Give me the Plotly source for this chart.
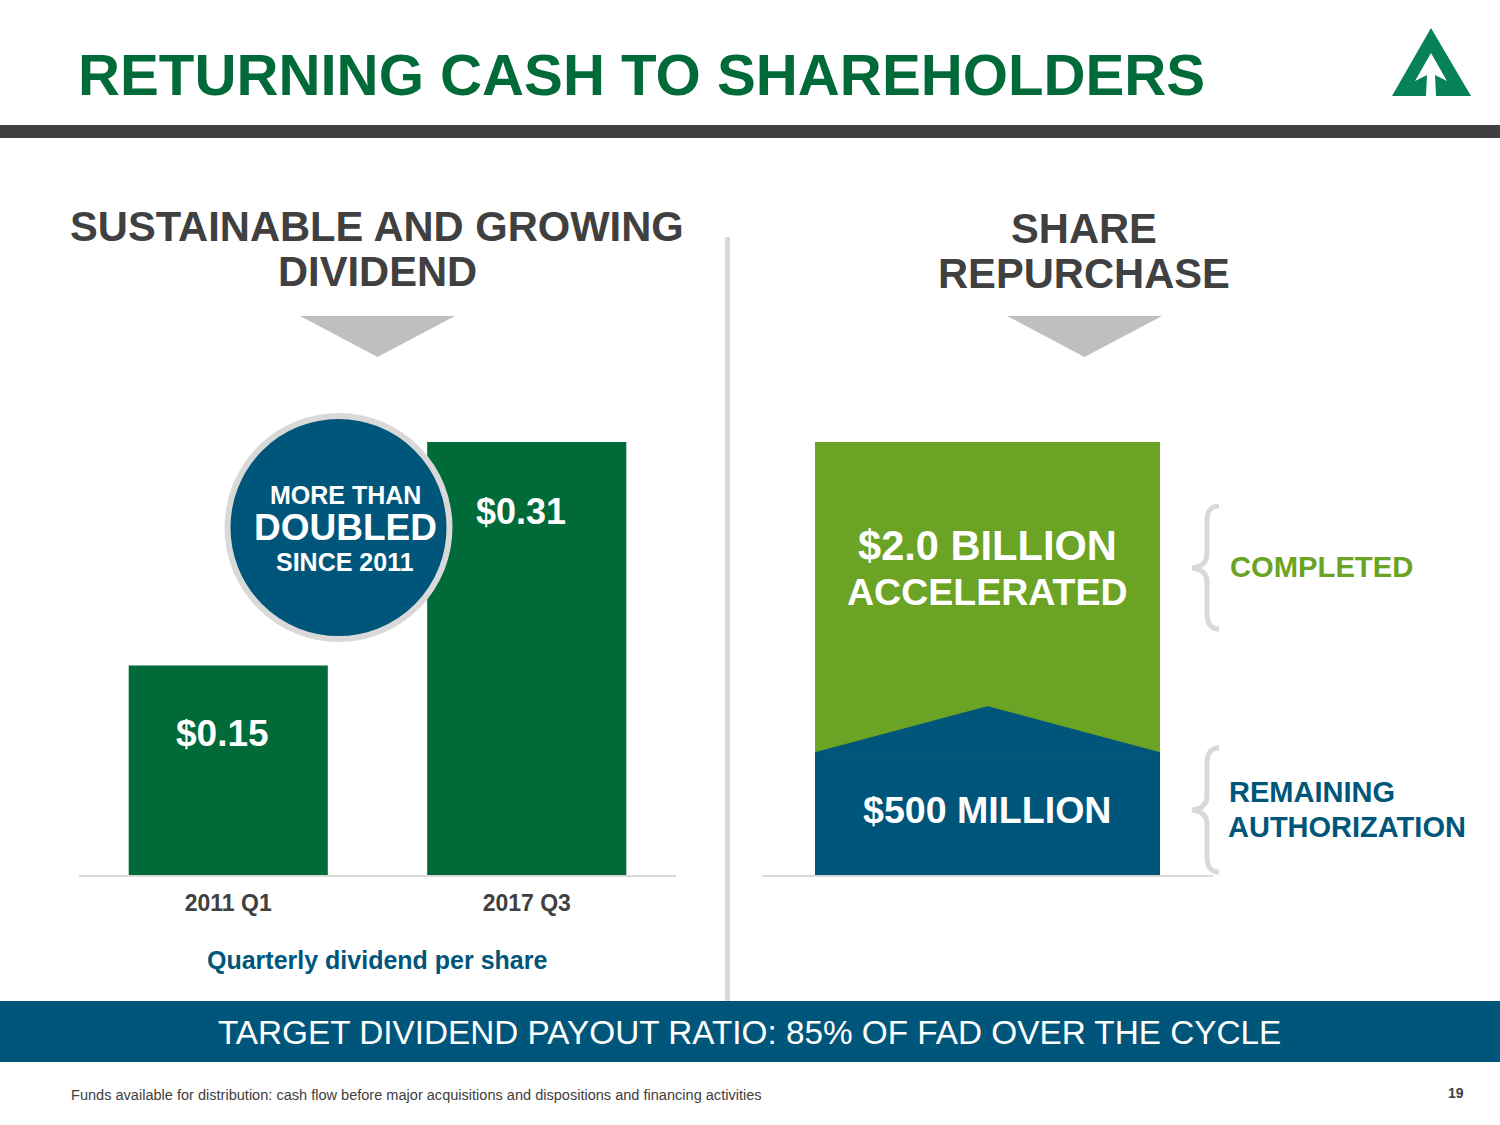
import plotly.graph_objects as go

# slide size
W = 1500
H = 1125

# dividend chart
quarters = ["2011 Q1", "2017 Q3"]
dividends = [0.15, 0.31]
dividend_labels = ["$0.15", "$0.31"]

# share repurchase chart, block heights as drawn on the slide (not to scale with the $ labels)
completed_top = [2.5]
remaining_shoulder = [0.706]
chevron_x = [-0.5, 0, 0.5, -0.5]
chevron_y = [0.706, 0.972, 0.706, 0.706]

DARK_GREEN = "#016a39"
LIGHT_GREEN = "#6ba324"
BLUE = "#00567a"
CHARCOAL = "#404040"
LIGHT_GRAY = "#d9d9d9"
MID_GRAY = "#bfbfbf"
LOGO_GREEN = "#07815a"
FONT = "Liberation Sans"


def px(x):
    return x / W


def py(y):
    return 1 - y / H


def label(text, x, y, size, color, bold=True, anchor="center"):
    # text placed by slide pixels
    return dict(
        text=f"<b>{text}</b>" if bold else text,
        x=px(x), y=py(y), xref="paper", yref="paper",
        xanchor=anchor, yanchor="middle", showarrow=False,
        font=dict(family=FONT, size=size, color=color),
    )


def shape_path(path, fill=None, line=None, width=0):
    return dict(
        type="path", path=path, xref="x3", yref="y3", layer="above",
        fillcolor=fill if fill else "rgba(0,0,0,0)",
        line=dict(color=line if line else "rgba(0,0,0,0)", width=width),
    )


def brace(top, mid, bottom):
    return shape_path(
        f"M1219,{top} C1210,{top} 1207,{top + 6} 1207,{top + 16} "
        f"L1207,{mid - 14} C1207,{mid - 5} 1201,{mid - 1} 1192,{mid} "
        f"C1201,{mid + 1} 1207,{mid + 5} 1207,{mid + 14} "
        f"L1207,{bottom - 16} C1207,{bottom - 6} 1210,{bottom} 1219,{bottom}",
        line=LIGHT_GRAY, width=5,
    )


fig = go.Figure()

# left chart
fig.add_trace(go.Bar(
    x=quarters, y=dividends, marker=dict(color=DARK_GREEN, line=dict(width=0)),
    width=0.667, xaxis="x", yaxis="y", hoverinfo="skip",
))

# right chart: green block with the blue chevron block in front
fig.add_trace(go.Bar(
    x=[0], y=completed_top, width=1, marker=dict(color=LIGHT_GREEN, line=dict(width=0)),
    xaxis="x2", yaxis="y2", hoverinfo="skip",
))
fig.add_trace(go.Bar(
    x=[0], y=remaining_shoulder, width=1, marker=dict(color=BLUE, line=dict(width=0)),
    xaxis="x2", yaxis="y2", hoverinfo="skip",
))
fig.add_trace(go.Scatter(
    x=chevron_x, y=chevron_y, mode="lines", fill="toself", fillcolor=BLUE,
    line=dict(width=1, color=BLUE), xaxis="x2", yaxis="y2", hoverinfo="skip",
))

# invisible full slide axes so decorations can be given in pixels
fig.add_trace(go.Scatter(x=[0], y=[0], mode="markers", marker=dict(opacity=0),
                         xaxis="x3", yaxis="y3", hoverinfo="skip"))

shapes = [
    # header rule, divider, bottom band
    dict(type="rect", xref="paper", yref="paper", x0=0, x1=1, y0=py(138), y1=py(125),
         fillcolor=CHARCOAL, line=dict(width=0), layer="below"),
    dict(type="rect", xref="paper", yref="paper", x0=px(725), x1=px(730), y0=py(1001), y1=py(237),
         fillcolor=LIGHT_GRAY, line=dict(width=0), layer="below"),
    dict(type="rect", xref="paper", yref="paper", x0=0, x1=1, y0=py(1062), y1=py(1001),
         fillcolor=BLUE, line=dict(width=0), layer="below"),
    # down arrows under the headings
    shape_path("M300,316 L455,316 L377.5,357 Z", fill=MID_GRAY),
    shape_path("M1007,316 L1162,316 L1084.5,357 Z", fill=MID_GRAY),
    # badge
    dict(type="circle", xref="x3", yref="y3", x0=227.5, x1=449.5, y0=416, y1=639,
         fillcolor=BLUE, line=dict(color=LIGHT_GRAY, width=6), layer="above"),
    # braces
    brace(506, 568, 629),
    brace(748, 810, 872),
    # logo
    shape_path("M1431,28 L1471,96 L1436,96 L1435,75 L1447,81 L1431,53 L1415,81 "
               "L1427,75 L1426,96 L1392,96 Z", fill=LOGO_GREEN),
]

annotations = [
    label("RETURNING CASH TO SHAREHOLDERS", 75.5, 75, 58.2, DARK_GREEN, anchor="left"),
    label("SUSTAINABLE AND GROWING", 377, 226, 41.7, CHARCOAL),
    label("DIVIDEND", 377, 271, 41.7, CHARCOAL),
    label("SHARE", 1084, 229, 41.7, CHARCOAL),
    label("REPURCHASE", 1084, 273, 41.7, CHARCOAL),
    label(dividend_labels[0], 222.5, 733, 37, "white"),
    label(dividend_labels[1], 521, 511, 36, "white"),
    label("MORE THAN", 345, 495, 25, "white"),
    label("DOUBLED", 345.5, 527, 37, "white"),
    label("SINCE 2011", 344.5, 562, 25, "white"),
    label("Quarterly dividend per share", 377, 959.5, 25, BLUE),
    label("$2.0 BILLION", 987, 545, 41.6, "white"),
    label("ACCELERATED", 988, 592, 37.5, "white"),
    label("$500 MILLION", 987, 810, 37.6, "white"),
    label("COMPLETED", 1228, 567, 29.2, LIGHT_GREEN, anchor="left"),
    label("REMAINING", 1227, 792, 29, BLUE, anchor="left"),
    label("AUTHORIZATION", 1226, 827, 29, BLUE, anchor="left"),
    label("TARGET DIVIDEND PAYOUT RATIO: 85% OF FAD OVER THE CYCLE", 749, 1032, 33.3, "white", bold=False),
    label("Funds available for distribution: cash flow before major acquisitions "
          "and dispositions and financing activities", 68.5, 1095, 14.55, CHARCOAL, bold=False, anchor="left"),
    label("19", 1456, 1093, 14, CHARCOAL),
]

fig.update_layout(
    width=W, height=H, margin=dict(l=0, r=0, t=0, b=0, autoexpand=False),
    paper_bgcolor="white", plot_bgcolor="rgba(0,0,0,0)",
    showlegend=False, barmode="overlay", shapes=shapes, annotations=annotations,
    xaxis=dict(domain=[px(79), px(676)], type="category", showgrid=False, zeroline=False,
               showline=True, linecolor=LIGHT_GRAY, linewidth=2, ticks="",
               ticklabelstandoff=6,
               tickfont=dict(family=FONT, size=23, color=CHARCOAL, weight="bold"), fixedrange=True),
    yaxis=dict(domain=[py(875), py(442)], range=[0, 0.31], visible=False, fixedrange=True),
    xaxis2=dict(domain=[px(762), px(1213)], range=[-0.6536, 0.6536], showgrid=False, zeroline=False,
                showline=True, linecolor=LIGHT_GRAY, linewidth=2, showticklabels=False, ticks="",
                anchor="y2", fixedrange=True),
    yaxis2=dict(domain=[py(875), py(442)], range=[0, 2.5], visible=False, anchor="x2", fixedrange=True),
    xaxis3=dict(domain=[0, 1], range=[0, W], visible=False, anchor="y3", fixedrange=True),
    yaxis3=dict(domain=[0, 1], range=[H, 0], visible=False, anchor="x3", fixedrange=True),
)

# page margin would otherwise push the slide off by 8px
fig.write_html("out.html", post_script="document.body.style.margin='0';",
               config=dict(displayModeBar=False))
